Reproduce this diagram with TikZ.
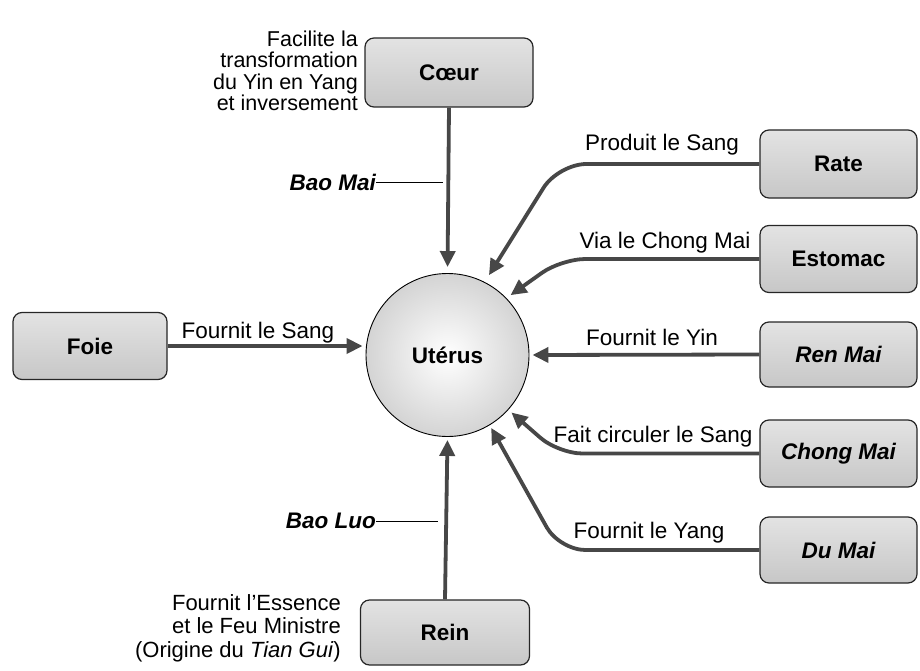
\documentclass[tikz,border=0pt]{standalone}
\usepackage{fontspec}
\setmainfont{Liberation Sans}
\usetikzlibrary{arrows.meta}
\begin{document}
\begin{tikzpicture}[x=1pt,y=-1pt,
  box/.style={draw=black!85, line width=1.2pt, rounded corners=9pt,
    top color=black!11, bottom color=black!22,
    minimum width=157pt, minimum height=67pt, inner sep=0pt,
    font=\fontsize{22.5}{25}\selectfont\bfseries},
  ibox/.style={box, font=\fontsize{22.5}{25}\selectfont\bfseries\itshape},
  conn/.style={draw=black!72, line width=3.8pt,
    -{Triangle[length=16pt,width=15pt]}, shorten >=3pt},
  lab/.style={font=\fontsize{22.5}{25}\selectfont, inner sep=0pt},
  mai/.style={font=\fontsize{22.5}{25}\selectfont\bfseries\itshape, inner sep=0pt},
  lead/.style={draw=black, line width=0.7pt}]
\useasboundingbox (0,0) rectangle (920,671);

% central organ
\node[circle, draw=black, line width=0.9pt, inner color=white, outer color=black!17,
  minimum size=163pt, font=\fontsize{22.5}{25}\selectfont\bfseries] (ut) at (447.5,355) {Utérus};

% boxes
\node[box, minimum width=168pt, minimum height=69pt] (co) at (449,72.5) {Cœur};
\node[box, minimum width=154pt] (foie) at (90,346) {Foie};
\node[box, minimum width=169pt, minimum height=65pt] (rein) at (445,632.5) {Rein};
\node[box, minimum height=68pt] (rate) at (838.5,164) {Rate};
\node[box] (est) at (838.5,259) {Estomac};
\node[ibox, minimum height=65pt] (ren) at (838.5,354.5) {Ren Mai};
\node[ibox] (chong) at (838.5,453.5) {Chong Mai};
\node[ibox, minimum height=66pt] (du) at (838.5,550) {Du Mai};

% connectors
\draw[conn, shorten >=6pt] (co.south) -- (ut.north);
\draw[conn] (rein.north) -- (ut.south);
\draw[conn] (foie.east) -- (foie.east -| ut.west);
\draw[conn] (ren.west) -- (ut.east);
\draw[conn, rounded corners=28pt, shorten >=8pt] (rate.west) -- ++(-201,0) -- (ut.63);
\draw[conn, rounded corners=24pt, shorten >=5pt] (est.west) -- ++(-198,0) -- (ut.44);
\draw[conn, rounded corners=24pt, shorten >=4pt] (chong.west) -- ++(-201,0) -- (ut.-42);
\draw[conn, rounded corners=26pt] (du.west) -- ++(-200,0) -- (ut.-59);

% connector labels
\node[lab] (l1) at (662,145) {Produit le Sang};
\node[lab] (l2) at (665,243) {Via le Chong Mai};
\node[lab] (l3) at (652,337) {Fournit le Yin};
\node[lab] (l4) at (653,437) {Fait circuler le Sang};
\node[lab] (l5) at (649,533) {Fournit le Yang};
\node[lab] (l6) at (258,333) {Fournit le Sang};

% Bao Mai / Bao Luo
\node[mai, anchor=east] (bm) at (376,182) {Bao Mai};
\draw[lead] (bm.east) -- ++(67,0);
\node[mai, anchor=east] (bl) at (376,521) {Bao Luo};
\draw[lead] (bl.east) -- ++(62,0);

% side notes
\node[lab, anchor=east, align=right, font=\fontsize{21.5}{21.5}\selectfont] (cnote) at (358,71)
  {Facilite la\\transformation\\du Yin en Yang\\et inversement};
\node[lab, anchor=east, align=right, font=\fontsize{22}{23.5}\selectfont] (rnote) at (341,628)
  {Fournit l’Essence\\et le Feu Ministre\\(Origine du \textit{Tian Gui})};
\end{tikzpicture}
\end{document}
